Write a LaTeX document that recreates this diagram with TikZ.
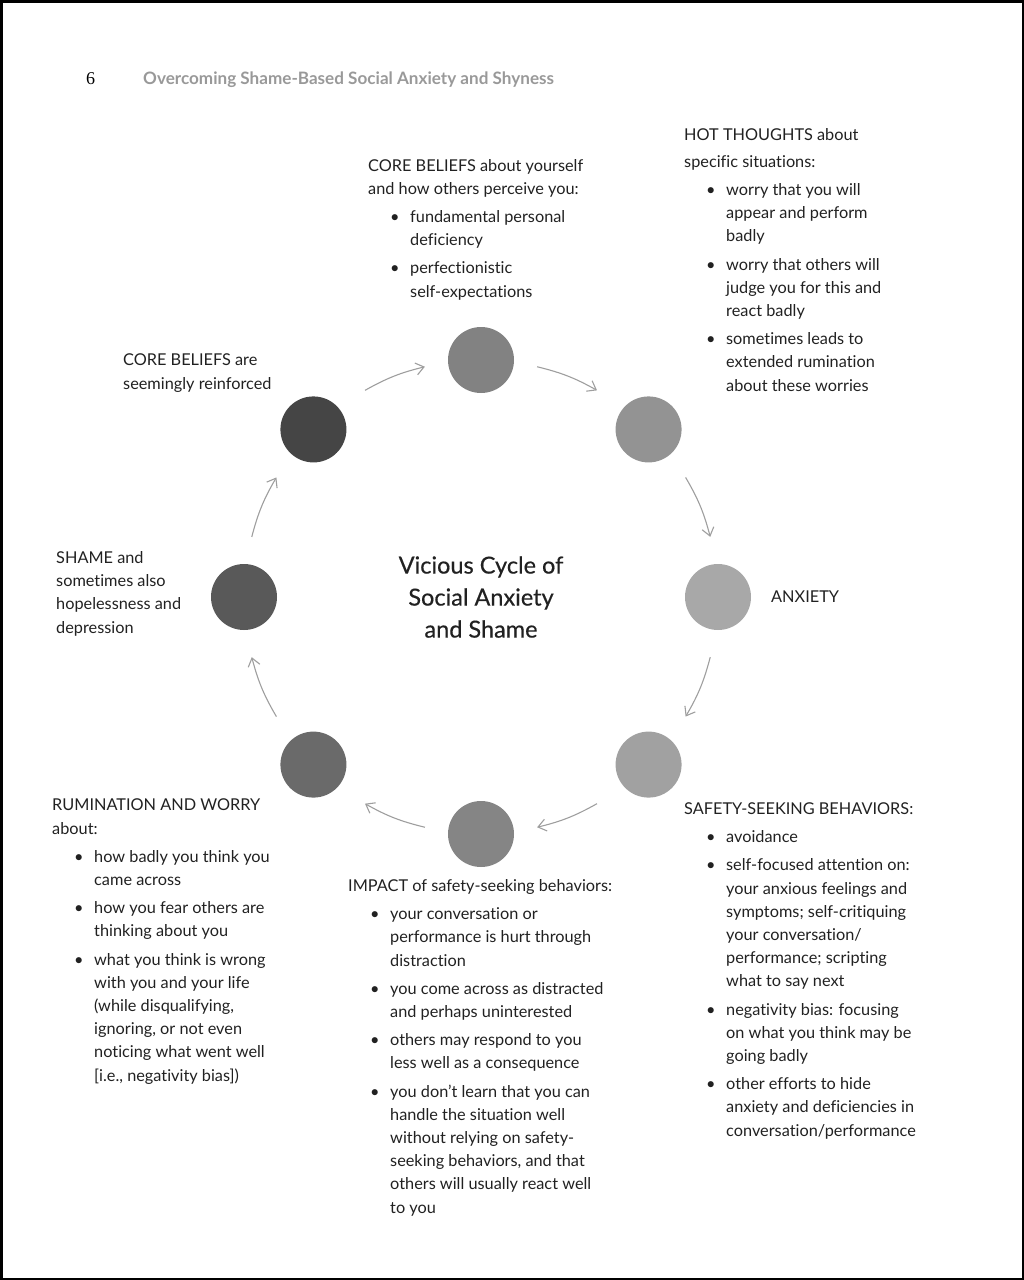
\documentclass[tikz,border=0pt]{standalone}
\usepackage{fontspec}
\setmainfont{Lato}[Ligatures=NoCommon]
\newfontfamily\numfont{Liberation Serif}
\newfontfamily\titlefont{Lato}[FakeBold=0.4, Ligatures=NoCommon]
\usetikzlibrary{calc, positioning, arrows.meta}
\definecolor{dotCore}{gray}{0.51}
\definecolor{dotHot}{gray}{0.575}
\definecolor{dotAnx}{gray}{0.66}
\definecolor{dotSafe}{gray}{0.63}
\definecolor{dotImp}{gray}{0.52}
\definecolor{dotRum}{gray}{0.415}
\definecolor{dotShame}{gray}{0.35}
\definecolor{dotReinf}{gray}{0.27}
\definecolor{inkgray}{gray}{0.13}
\definecolor{arrowgray}{gray}{0.62}
\definecolor{headgray}{gray}{0.6}
\tikzset{
    dot/.style={circle, minimum size=66pt, inner sep=0pt},
    cyc/.style={-{Straight Barb[length=8pt, width=12pt]}, draw=arrowgray, line width=1.1pt},
    txt/.style={anchor=base west, align=left, inner sep=0pt, text=inkgray, font=\fontsize{16.3}{23.2}\selectfont},
    ttl/.style={align=center, inner sep=0pt, text=inkgray, font=\titlefont\fontsize{23.5}{32}\selectfont},
    runhead/.style={anchor=base west, inner sep=0pt, text=headgray, font=\bfseries\fontsize{17.1}{20}\selectfont}
}
\newcommand{\bitem}{\hspace*{22pt}\makebox[20pt][l]{\textbullet}}
\newcommand{\bcont}{\hspace*{42pt}}

\begin{document}
\begin{tikzpicture}[x=1pt, y=1pt]
        \useasboundingbox (0,0) rectangle (1024,-1280);
        \draw[line width=2.5pt] (1.25,-1.25) rectangle (1022.75,-1278.75);
        
        % Running head
        \node[anchor=base west, inner sep=0pt, font=\numfont\fontsize{18}{20}\selectfont] (pnum) at (86,-84) {6};
        \node[runhead] (head) at (143,-84) {Overcoming Shame-Based Social Anxiety and Shyness};
        
        % Cycle of dots
        \coordinate (ctr) at (481,-597);
        \foreach \a/\c/\n in {90/dotCore/core, 45/dotHot/hot, 0/dotAnx/anx, -45/dotSafe/safe, -90/dotImp/imp, -135/dotRum/rum, 180/dotShame/shame, 135/dotReinf/reinf}
            \node[dot, fill=\c] (\n) at ($(ctr)+(\a:237)$) {};
        
        % Arrows between the dots
        \foreach \m [count=\i] in {68.5, 22.5, -22.5, -68.5, -111.5, -157.5, -202.5, -248.5} {
            \coordinate (s\i) at ($(ctr)+(\m+7.8:237)$);
            \coordinate (e\i) at ($(ctr)+(\m-7.8:237)$);
            \draw[cyc] (s\i) to[bend left=7.8] (e\i);
        }
        
        \node[ttl] (title) at (ctr) {Vicious Cycle of\\ Social Anxiety\\ and Shame};
        
        % Labels (anchored at the baseline of their last line)
        \node[txt] (coreTxt) at (368,-297) {CORE BELIEFS about yourself\\ and how others perceive you:\\[5pt]
            \bitem fundamental personal\\ \bcont deficiency\\[5pt]
            \bitem perfectionistic\\ \bcont self-expectations};
        \node[txt] (hotTxt) at (684,-391) {HOT THOUGHTS about\\[3.8pt] specific situations:\\[5pt]
            \bitem worry that you will\\ \bcont appear and perform\\ \bcont badly\\[5pt]
            \bitem worry that others will\\ \bcont judge you for this and\\ \bcont react badly\\[5pt]
            \bitem sometimes leads to\\ \bcont extended rumination\\ \bcont about these worries};
        \node[txt, anchor=west] (anxTxt) at (771,-597) {ANXIETY};
        \node[txt] (safeTxt) at (684,-1136) {SAFETY-SEEKING BEHAVIORS:\\[5pt]
            \bitem avoidance\\[5pt]
            \bitem self-focused attention on:\\ \bcont your anxious feelings and\\ \bcont symptoms; self-critiquing\\ \bcont your conversation/\\ \bcont performance; scripting\\ \bcont what to say next\\[5pt]
            \bitem negativity bias: focusing\\ \bcont on what you think may be\\ \bcont going badly\\[5pt]
            \bitem other efforts to hide\\ \bcont anxiety and deficiencies in\\ \bcont conversation/performance};
        \node[txt] (impTxt) at (348,-1213) {IMPACT of safety-seeking behaviors:\\[5pt]
            \bitem your conversation or\\ \bcont performance is hurt through\\ \bcont distraction\\[5pt]
            \bitem you come across as distracted\\ \bcont and perhaps uninterested\\[5pt]
            \bitem others may respond to you\\ \bcont less well as a consequence\\[5pt]
            \bitem you don’t learn that you can\\ \bcont handle the situation well\\ \bcont without relying on safety-\\ \bcont seeking behaviors, and that\\ \bcont others will usually react well\\ \bcont to you};
        \node[txt] (rumTxt) at (52,-1081) {RUMINATION AND WORRY\\ about:\\[5pt]
            \bitem how badly you think you\\ \bcont came across\\[5pt]
            \bitem how you fear others are\\ \bcont thinking about you\\[5pt]
            \bitem what you think is wrong\\ \bcont with you and your life\\ \bcont (while disqualifying,\\ \bcont ignoring, or not even\\ \bcont noticing what went well\\ \bcont [i.e., negativity bias])};
        \node[txt] (shameTxt) at (56,-633) {SHAME and\\ sometimes also\\ hopelessness and\\ depression};
        \node[txt] (reinfTxt) at (123,-389) {CORE BELIEFS are\\ seemingly reinforced};
    \end{tikzpicture}
\end{document}
